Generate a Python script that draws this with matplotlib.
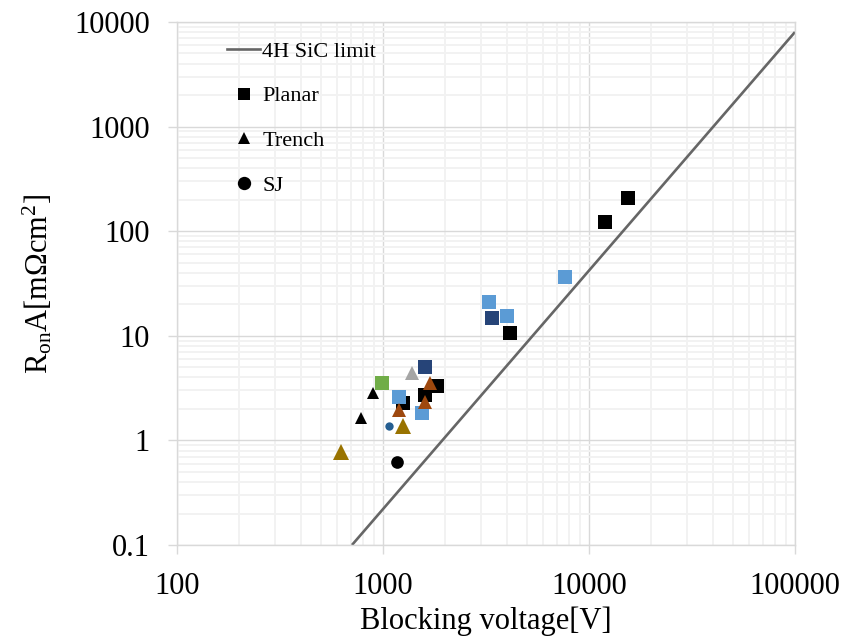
import matplotlib
matplotlib.use("Agg")
import matplotlib.pyplot as plt
from matplotlib.lines import Line2D

plt.rcParams['font.family'] = ['Liberation Serif', 'DejaVu Serif']
plt.rcParams['mathtext.fontset'] = 'custom'
plt.rcParams['mathtext.rm'] = 'Liberation Serif'
plt.rcParams['mathtext.it'] = 'Liberation Serif:italic'

# ---- data ----
limit_v = [707, 100000]
limit_r = [0.1, 8020]

planar_black_v = [15450, 11990, 4150, 1824, 1256, 1600]
planar_black_r = [207, 122, 10.6, 3.33, 2.26, 2.72]

lightblue_sq_v = [7620, 3282, 3980, 1191, 1545]
lightblue_sq_r = [36.7, 21.0, 15.5, 2.62, 1.84]

darkblue_sq_v = [3395, 1600]
darkblue_sq_r = [14.7, 5.0]

green_sq_v = [993]
green_sq_r = [3.5]

black_tri_v = [891, 782]
black_tri_r = [2.86, 1.65]

gray_tri_v = [1387]
gray_tri_r = [4.38]

orange_tri_v = [1690, 1600, 1191]
orange_tri_r = [3.52, 2.34, 1.95]

gold_tri_v = [1256, 623]
gold_tri_r = [1.37, 0.77]

blue_circ_v = [1069]
blue_circ_r = [1.37]

black_circ_v = [1166]
black_circ_r = [0.625]

x_ticks = [100, 1000, 10000, 100000]
y_ticks = [0.1, 1, 10, 100, 1000, 10000]
x_ticklabels = ['100', '1000', '10000', '100000']
y_ticklabels = ['0.1', '1', '10', '100', '1000', '10000']

fig = plt.figure(figsize=(8.45, 6.38), dpi=100)
ax = fig.add_axes([177/845, 1-545/638, (795-177)/845, (545-22)/638])
ax.set_xscale('log')
ax.set_yscale('log')
ax.set_xlim(100, 100000)
ax.set_ylim(0.1, 10000)

ax.grid(True, which='minor', color='#f2f2f2', lw=1.4, zorder=0)
ax.grid(True, which='major', color='#d9d9d9', lw=1.0, zorder=0)
ax.set_axisbelow(True)

ax.plot(limit_v, limit_r, color='#666666', lw=1.9, zorder=2, solid_capstyle='butt')

def sc(v, r, m, c, ms):
    ax.plot(v, r, ls='none', marker=m, color=c, ms=ms, mew=0, zorder=3)

sc(planar_black_v, planar_black_r, 's', '#000000', 9.4)
sc(black_tri_v, black_tri_r, '^', '#000000', 8.4)
sc(lightblue_sq_v, lightblue_sq_r, 's', '#5B9BD5', 9.6)
sc(darkblue_sq_v, darkblue_sq_r, 's', '#264478', 9.6)
sc(green_sq_v, green_sq_r, 's', '#70AD47', 9.6)
sc(gray_tri_v, gray_tri_r, '^', '#A5A5A5', 9.4)
sc(orange_tri_v, orange_tri_r, '^', '#9E480E', 10.3)
sc(gold_tri_v, gold_tri_r, '^', '#997300', 12)
sc(blue_circ_v, blue_circ_r, 'o', '#255E91', 6)
sc(black_circ_v, black_circ_r, 'o', '#000000', 9.1)

ax.set_xticks(x_ticks)
ax.set_xticklabels(x_ticklabels)
ax.set_yticks(y_ticks)
ax.set_yticklabels(y_ticklabels)
ax.tick_params(which='major', direction='out', length=6.5, width=1, color='#d9d9d9',
               labelsize=22, pad=13)
ax.tick_params(which='minor', length=0)
for s in ax.spines.values():
    s.set_color('#d9d9d9')
    s.set_linewidth(1)

ax.set_xlabel('Blocking voltage[V]', fontsize=22, labelpad=4)
ax.set_ylabel(r'R$_{\mathrm{on}}$A[mΩcm$^{2}$]', fontsize=22, labelpad=14)

handles = [
    Line2D([], [], color='#666666', lw=1.9),
    Line2D([], [], ls='none', marker='s', color='black', ms=9.1, mew=0),
    Line2D([], [], ls='none', marker='^', color='black', ms=9.1, mew=0),
    Line2D([], [], ls='none', marker='o', color='black', ms=9.6, mew=0),
]
labels = ['4H SiC limit', 'Planar', 'Trench', 'SJ']
ax.legend(handles, labels, loc='upper left', bbox_to_anchor=(0.081, 0.963),
          frameon=False, fontsize=16, handlelength=1.49, handletextpad=0.1,
          labelspacing=1.08, borderpad=0, borderaxespad=0)

fig.savefig('out.png', dpi=100)
